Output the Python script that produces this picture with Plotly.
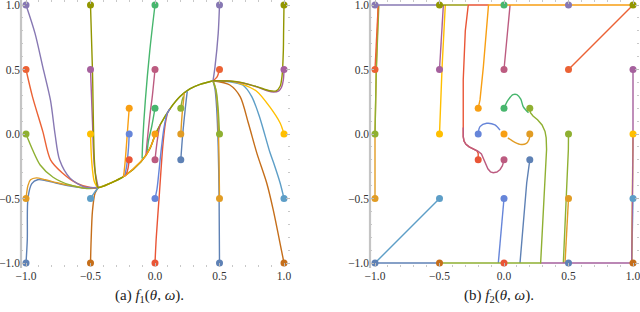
import plotly.graph_objects as go

# Mathematica default plot palette
PALETTE = ['#5E81B5', '#E19C24', '#8FB032', '#EB6235', '#8778B3',
           '#C56E1A', '#5D9EC7', '#FFBF00', '#A5609D', '#929600',
           '#E95536', '#6685D9', '#F89F13', '#BC5B80', '#47B66D']

# starting points (same in both panels): 5x5 grid then 8 inner points
START_X = [-1, -1, -1, -1, -1, -0.5, -0.5, -0.5, -0.5, -0.5, 0, 0, 0, 0, 0,
           0.5, 0.5, 0.5, 0.5, 0.5, 1, 1, 1, 1, 1,
           -0.2, -0.2, -0.2, 0, 0, 0.2, 0.2, 0.2]
START_Y = [-1, -0.5, 0, 0.5, 1] * 5 + [-0.2, 0, 0.2, -0.2, 0.2, -0.2, 0, 0.2]
START_COLOR = list(range(15)) + list(range(10)) + [10, 11, 12, 13, 14, 0, 1, 2]

TICK_VALS = [-1, -0.5, 0, 0.5, 1]
TICK_TEXT = ['\u22121.0', '\u22120.5', '0.0', '0.5', '1.0']

# trajectories of f1 (one per starting point, same order)
F1_PATHS = [
    [(-1, -1), (-0.99, -0.82), (-0.985, -0.5), (-0.955, -0.385), (-0.91, -0.355), (-0.85, -0.36), (-0.75, -0.385), (-0.62, -0.41), (-0.53, -0.42), (-0.44, -0.415)],
    [(-1, -0.5), (-0.985, -0.4), (-0.965, -0.355), (-0.92, -0.34), (-0.85, -0.355), (-0.75, -0.38), (-0.62, -0.405), (-0.53, -0.42), (-0.44, -0.415), (-0.336, -0.377), (-0.25, -0.335)],
    [(-1, 0), (-0.95, -0.12), (-0.89, -0.24), (-0.79, -0.335), (-0.66, -0.395), (-0.53, -0.422), (-0.44, -0.415), (-0.336, -0.377), (-0.244, -0.331), (-0.109, -0.215), (-0.039, -0.111), (0.0, -0.01), (0.039, 0.07), (0.116, 0.195), (0.194, 0.29), (0.27, 0.35), (0.349, 0.385), (0.45, 0.413)],
    [(-1, 0.5), (-0.95, 0.29), (-0.87, 0.02), (-0.81, -0.2), (-0.72, -0.3), (-0.6, -0.385), (-0.5, -0.415), (-0.44, -0.415)],
    [(-1, 1), (-0.93, 0.78), (-0.87, 0.52), (-0.81, 0.26), (-0.775, 0.0), (-0.74, -0.2), (-0.66, -0.34), (-0.55, -0.41), (-0.44, -0.415)],
    [(-0.5, -1), (-0.495, -0.82), (-0.485, -0.6), (-0.465, -0.46), (-0.44, -0.415)],
    [(-0.5, -0.5), (-0.47, -0.455), (-0.44, -0.415)],
    [(-0.5, 0), (-0.49, -0.22), (-0.47, -0.37), (-0.44, -0.415), (-0.336, -0.377), (-0.28, -0.35)],
    [(-0.5, 0.5), (-0.485, 0.1), (-0.47, -0.25), (-0.44, -0.415)],
    [(-0.5, 1), (-0.485, 0.5), (-0.47, -0.2), (-0.455, -0.37), (-0.44, -0.415), (-0.336, -0.377), (-0.244, -0.331), (-0.109, -0.215), (-0.039, -0.111), (0.0, -0.01), (0.039, 0.07), (0.116, 0.195), (0.194, 0.29), (0.27, 0.35), (0.349, 0.385), (0.45, 0.413)],
    [(0, -1), (0.01, -0.8), (0.035, -0.45), (0.06, -0.1), (0.08, 0.08), (0.1, 0.17), (0.116, 0.195)],
    [(0, -0.5), (0.015, -0.43), (0.045, -0.15), (0.07, 0.05), (0.095, 0.16), (0.116, 0.195)],
    [(0, 0)],
    [(0, 0.5), (-0.02, 0.3), (-0.039, 0.147), (-0.06, -0.05), (-0.07, -0.165)],
    [(0, 1), (-0.04, 0.65), (-0.075, 0.26), (-0.095, -0.05), (-0.1, -0.19)],
    [(0.5, -1), (0.497, -0.5), (0.49, -0.1), (0.478, 0.2), (0.465, 0.35), (0.45, 0.41)],
    [(0.5, -0.5), (0.495, -0.12), (0.485, 0.2), (0.468, 0.36), (0.45, 0.41)],
    [(0.5, 0), (0.49, 0.19), (0.475, 0.33), (0.45, 0.41)],
    [(0.5, 0.5), (0.48, 0.44), (0.45, 0.413)],
    [(0.5, 1), (0.49, 0.78), (0.465, 0.52), (0.45, 0.413)],
    [(1, -1), (0.98, -0.9), (0.917, -0.59), (0.866, -0.38), (0.79, -0.15), (0.724, 0.083), (0.66, 0.29), (0.58, 0.38), (0.45, 0.413)],
    [(1, -0.5), (0.97, -0.38), (0.92, -0.225), (0.89, -0.14), (0.81, 0.134), (0.75, 0.29), (0.68, 0.38), (0.58, 0.405), (0.45, 0.413)],
    [(1, 0), (0.97, 0.085), (0.89, 0.21), (0.79, 0.33), (0.68, 0.385), (0.58, 0.41), (0.45, 0.413)],
    [(1, 0.5), (0.995, 0.42), (0.98, 0.36), (0.96, 0.335), (0.92, 0.325), (0.87, 0.335), (0.79, 0.365), (0.68, 0.395), (0.58, 0.41), (0.45, 0.413)],
    [(1, 1), (0.997, 0.8), (0.995, 0.65), (0.985, 0.45), (0.97, 0.37), (0.94, 0.335), (0.89, 0.335), (0.79, 0.367), (0.633, 0.406), (0.45, 0.413)],
    [(-0.2, -0.2), (-0.21, -0.27), (-0.225, -0.315), (-0.24, -0.33)],
    [(-0.2, 0), (-0.205, -0.1), (-0.22, -0.25), (-0.235, -0.325)],
    [(-0.2, 0.2), (-0.215, 0.0), (-0.23, -0.2), (-0.24, -0.3), (-0.244, -0.331), (-0.142, -0.245), (-0.07, -0.165), (-0.03, -0.09), (0.0, -0.01)],
    [(0, -0.2), (0.015, -0.07), (0.03, 0.03), (0.04, 0.07)],
    [(0, 0.2), (-0.025, 0.06), (-0.05, -0.05), (-0.06, -0.13)],
    [(0.2, -0.2), (0.215, 0.0), (0.235, 0.2), (0.25, 0.33)],
    [(0.2, 0), (0.21, 0.15), (0.227, 0.315)],
    [(0.2, 0.2), (0.21, 0.26), (0.22, 0.29)],
]

# trajectories of f2
F2_PATHS = [
    [(-1, -1), (-0.5, -1)],
    [(-1, -0.5), (-1, 0.0), (-0.99, 0.5), (-0.975, 1)],
    [(-1, 0), (-0.99, 0.5), (-0.97, 1)],
    [(-1, 0.5), (-0.985, 0.8), (-0.975, 1)],
    [(-1, 1), (-0.5, 1)],
    [(-0.5, -1)],
    [(-0.5, -0.5), (-1, -1)],
    [(-0.5, 0), (-0.48, 0.52), (-0.455, 1)],
    [(-0.5, 0.5), (-0.47, 1)],
    [(-0.5, 1), (-0.28, 1)],
    [(0, -1)],
    [(0, -0.5), (-0.044, -1)],
    [(0, 0)],
    [(0, 0.5), (0.047, 1)],
    [(0, 1)],
    [(0.5, -1)],
    [(0.5, -0.5), (0.473, -1)],
    [(0.5, 0), (0.499, -0.12), (0.46, -1)],
    [(0.5, 0.5), (1, 1)],
    [(0.5, 1)],
    [(1, -1)],
    [(1, -0.5), (0.99, -1)],
    [(1, 0), (0.995, -0.5), (0.99, -1)],
    [(1, 0.5), (1.0, -0.12), (0.99, -1), (0.28, -1)],
    [(1, 1)],
    [(-0.2, -0.2), (-0.2, -0.15), (-0.21, -0.13), (-0.235, -0.118), (-0.27, -0.1), (-0.295, -0.08), (-0.31, -0.055), (-0.316, -0.02), (-0.316, 0.42), (-0.3, 0.8), (-0.277, 1), (-0.12, 1)],
    [(-0.2, 0), (-0.186, 0.057), (-0.134, 0.083), (-0.07, 0.07), (-0.031, 0.03)],
    [(-0.2, 0.2), (-0.186, 0.264), (-0.16, 0.52), (-0.134, 0.83), (-0.12, 1), (1, 1)],
    [(0, -0.2), (-0.012, -0.245), (-0.03, -0.275), (-0.055, -0.295), (-0.083, -0.3), (-0.105, -0.293), (-0.125, -0.27), (-0.14, -0.235), (-0.155, -0.19), (-0.175, -0.155), (-0.2, -0.135), (-0.235, -0.118), (-0.27, -0.1), (-0.295, -0.08), (-0.31, -0.055), (-0.316, -0.02), (-0.316, 0.05)],
    [(0, 0.2), (0.03, 0.26), (0.07, 0.305), (0.1, 0.305), (0.13, 0.27), (0.15, 0.21), (0.19, 0.165)],
    [(0.2, -0.2), (0.176, -0.38), (0.124, -1)],
    [(0.2, 0), (0.195, -0.04), (0.17, -0.075), (0.124, -0.08), (0.06, -0.05), (0.03, -0.03)],
    [(0.2, 0.2), (0.205, 0.165), (0.225, 0.14), (0.26, 0.11), (0.295, 0.07), (0.318, 0.02), (0.327, -0.03), (0.33, -0.12), (0.31, -0.5), (0.284, -1), (-0.5, -1)],
]
F2_SMOOTH = {26, 29, 31}

CAPTIONS = ['(a) <i>f</i><sub>1</sub>(<i>\u03b8</i>, <i>\u03c9</i>).',
            '(b) <i>f</i><sub>2</sub>(<i>\u03b8</i>, <i>\u03c9</i>).']

W, H = 640, 312
PX = 129.0  # pixels per data unit
XR = [-1 - 5 / PX, 1 + 6 / PX]
YR = [-1 - 4 / PX, 1 + 5 / PX]
X_DOMAINS = [[21 / W, 290 / W], [370 / W, 639 / W]]
Y_DOMAIN = [45 / H, 1.0]
SERIF = 'Liberation Serif'

fig = go.Figure()

for panel, paths in enumerate([F1_PATHS, F2_PATHS]):
    xa = 'x' if panel == 0 else 'x2'
    ya = 'y' if panel == 0 else 'y2'
    for i, pts in enumerate(paths):
        if len(pts) < 2:
            continue
        if panel == 0:
            shape, sm = 'spline', 0.8
        else:
            shape, sm = ('spline', 0.9) if i in F2_SMOOTH else ('linear', 0)
        line = dict(color=PALETTE[START_COLOR[i]], width=1.4, shape=shape)
        if shape == 'spline':
            line['smoothing'] = sm
        fig.add_trace(go.Scatter(
            x=[p[0] for p in pts], y=[p[1] for p in pts], mode='lines',
            line=line, xaxis=xa, yaxis=ya, hoverinfo='skip', showlegend=False,
            cliponaxis=False))
    fig.add_trace(go.Scatter(
        x=START_X, y=START_Y, mode='markers',
        marker=dict(size=7, color=[PALETTE[c] for c in START_COLOR], line=dict(width=0)),
        xaxis=xa, yaxis=ya, hoverinfo='skip', showlegend=False, cliponaxis=False))

tickfont = dict(family=SERIF, size=11.5, color='#333333')

def minor():
    return dict(ticks='inside', ticklen=2, tickcolor='#C8C8C8', tick0=0, dtick=0.1)

def xaxis_cfg(dom, anchor):
    return dict(domain=dom, range=XR, anchor=anchor, showgrid=False, zeroline=False,
                showline=False, ticks='inside', ticklen=4, tickcolor='#BBBBBB',
                mirror='ticks', tickmode='array', tickvals=TICK_VALS, ticktext=TICK_TEXT,
                tickfont=tickfont, minor=minor(), fixedrange=True, automargin=False,
                ticklabeloverflow='allow')

def yaxis_cfg(anchor):
    return dict(domain=Y_DOMAIN, range=YR, anchor=anchor, showgrid=False, zeroline=False,
                showline=False, ticks='inside', ticklen=4, tickcolor='#BBBBBB',
                mirror='ticks', tickmode='array', tickvals=TICK_VALS, ticktext=TICK_TEXT,
                tickfont=tickfont, minor=minor(), fixedrange=True, automargin=False,
                ticklabelstandoff=0, ticklabeloverflow='allow')

shapes = []
annotations = []
for k, dom in enumerate(X_DOMAINS):
    shapes.append(dict(type='line', xref='paper', yref='paper',
                       x0=dom[0], x1=dom[0], y0=Y_DOMAIN[0] - 1 / H, y1=1.0,
                       line=dict(color='#C4C4C4', width=2.2)))
    annotations.append(dict(text=CAPTIONS[k], xref='paper', yref='paper',
                            x=(dom[0] + dom[1]) / 2 - 6 / W, y=(H - 296) / H,
                            xanchor='center', yanchor='middle', showarrow=False,
                            font=dict(family=SERIF, size=15, color='#222222')))

fig.update_layout(
    template='none',
    width=W, height=H,
    margin=dict(l=0, r=0, t=0, b=0, pad=0, autoexpand=False),
    font=dict(family=SERIF),
    paper_bgcolor='white', plot_bgcolor='white',
    xaxis=xaxis_cfg(X_DOMAINS[0], 'y'),
    yaxis=yaxis_cfg('x'),
    xaxis2=xaxis_cfg(X_DOMAINS[1], 'y2'),
    yaxis2=yaxis_cfg('x2'),
    shapes=shapes,
    annotations=annotations,
    showlegend=False,
)

fig.write_html('out.html', config={'displayModeBar': False},
               post_script="document.body.style.margin='0';document.body.style.overflow='hidden';")
